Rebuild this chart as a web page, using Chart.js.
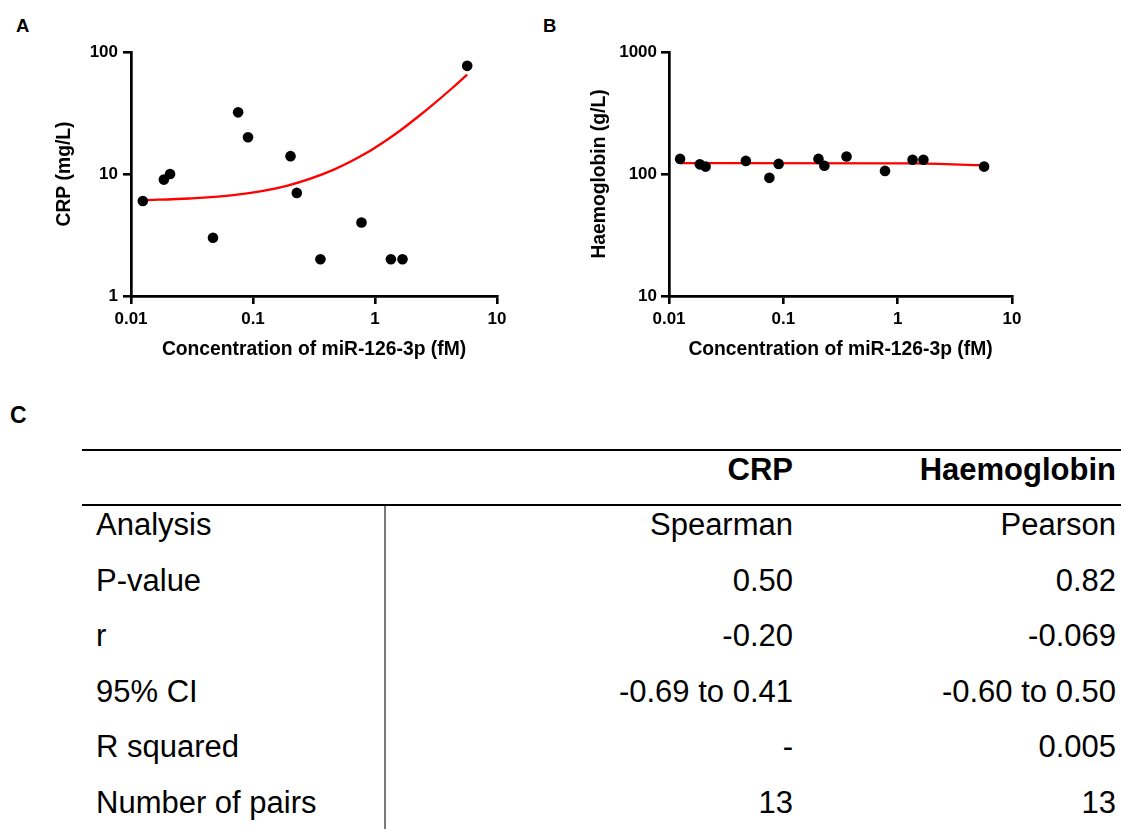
<!DOCTYPE html>
<html>
<head>
<meta charset="utf-8">
<script src="https://cdn.jsdelivr.net/npm/chart.js@4/dist/chart.umd.min.js"></script>
<style>
  html, body { margin: 0; padding: 0; background: #fff; }
  body { width: 1121px; height: 829px; position: relative; overflow: hidden;
         font-family: "Liberation Sans", Arial, sans-serif; color: #000; }
  .panel { position: absolute; font-weight: bold; line-height: 1; }
  canvas { position: absolute; }
  .rule { position: absolute; background: #000; }
  .cell { position: absolute; font-size: 31px; line-height: 40px; white-space: nowrap; }
  .num { text-align: right; }
  .head { font-weight: bold; }
</style>
</head>
<body>
<div class="panel" style="left:16px; top:17px; font-size:18.5px;">A</div>
<div class="panel" style="left:543px; top:17px; font-size:18.5px;">B</div>
<div class="panel" style="left:10px; top:404px; font-size:23px;">C</div>

<canvas id="crpChart" width="530" height="370" style="left:0; top:0;"></canvas>
<canvas id="hbChart" width="560" height="370" style="left:530px; top:0;"></canvas>

<div id="statsTable"></div>

<script>
// miR-126-3p concentration per patient (fM)
const concentration = [0.0125, 0.0186, 0.0209, 0.047, 0.0755, 0.091, 0.203, 0.2285, 0.357, 0.775, 1.35, 1.68, 5.7];
// CRP (mg/L) for the same patients
const crpValues = [6, 9, 10, 3, 32, 20, 14, 7, 2, 4, 2, 2, 77];
// Haemoglobin (g/L) for the same patients
const haemoglobinValues = [133, 120, 115, 128, 93, 121, 133, 117, 139, 106, 131, 131, 115];

// Fitted lines
const crpFitX = [0.0125, 0.03, 0.069, 0.189, 0.455, 0.855, 1.25, 1.6, 2.2, 3.0, 4.3, 5.7];
const crpFitY = [6.1, 6.3, 6.7, 8.0, 10.8, 14.9, 19, 22.6, 28.9, 37.2, 50.7, 65.3];
const hbFitX = [0.0125, 1.35, 5.7];
const hbFitY = [123, 122, 118];

// Axis ticks
const xTickValues = [0.01, 0.1, 1, 10];
const xTickLabels = ['0.01', '0.1', '1', '10'];
const crpTickValues = [1, 10, 100];
const crpTickLabels = ['1', '10', '100'];
const hbTickValues = [10, 100, 1000];
const hbTickLabels = ['10', '100', '1000'];

// Correlation summary table
const statNames = ['Analysis', 'P-value', 'r', '95% CI', 'R squared', 'Number of pairs'];
const crpStats = ['Spearman', '0.50', '-0.20', '-0.69 to 0.41', '-', '13'];
const hbStats = ['Pearson', '0.82', '-0.069', '-0.60 to 0.50', '0.005', '13'];

const FAMILY = '"Liberation Sans", Arial, sans-serif';
const tickFont = { family: FAMILY, size: 17, weight: 'bold' };
const titleFont = { family: FAMILY, size: 19.3, weight: 'bold' };
const axisGrid = { display: true, drawOnChartArea: false, drawTicks: true, tickLength: 8, color: '#000', lineWidth: 2.6 };
const axisBorder = { display: true, color: '#000', width: 2.7 };

function makePanel(id, yValues, fitX, fitY, yTicks, yLabels, yTitle, cfg) {
  const points = concentration.map((x, i) => ({ x: x, y: yValues[i] }));
  const fit = fitX.map((x, i) => ({ x: x, y: fitY[i] }));
  return new Chart(document.getElementById(id), {
    type: 'scatter',
    data: {
      datasets: [
        { data: points, backgroundColor: '#000', borderWidth: 0, pointRadius: 5.3, pointHoverRadius: 5.3 },
        { data: fit, showLine: true, borderColor: '#ff0000', borderWidth: 2.3, pointRadius: 0,
          fill: false, cubicInterpolationMode: 'monotone' }
      ]
    },
    options: {
      responsive: false,
      animation: false,
      devicePixelRatio: 1,
      layout: { padding: { top: 52, right: cfg.right, bottom: 0, left: 0 } },
      plugins: { legend: { display: false }, tooltip: { enabled: false } },
      scales: {
        x: {
          type: 'logarithmic', position: 'bottom', min: 0.01, max: 10,
          afterBuildTicks: s => { s.ticks = xTickValues.map(v => ({ value: v, major: true })); },
          afterFit: s => { s.height = 74; },
          grid: axisGrid,
          border: axisBorder,
          ticks: { color: '#000', padding: 5, maxRotation: 0, autoSkip: false, font: tickFont,
                   callback: (v, i) => xTickLabels[i] },
          title: { display: true, text: 'Concentration of miR-126-3p (fM)', color: '#000',
                   font: titleFont, padding: { top: 0, bottom: 8.4 } }
        },
        y: {
          type: 'logarithmic', position: 'left', min: yTicks[0], max: yTicks[yTicks.length - 1],
          afterBuildTicks: s => { s.ticks = yTicks.map(v => ({ value: v, major: true })); },
          afterFit: s => { s.width = cfg.yWidth; },
          grid: axisGrid,
          border: axisBorder,
          ticks: { color: '#000', padding: cfg.tickPad, autoSkip: false, font: tickFont,
                   callback: (v, i) => yLabels[i] },
          title: { display: true, text: yTitle, color: '#000', font: titleFont,
                   padding: { top: cfg.titleOffset, bottom: 0 } }
        }
      }
    }
  });
}

makePanel('crpChart', crpValues, crpFitX, crpFitY, crpTickValues, crpTickLabels, 'CRP (mg/L)',
          { right: 33, yWidth: 131, tickPad: 5, titleOffset: 53.4 });
makePanel('hbChart', haemoglobinValues, hbFitX, hbFitY, hbTickValues, hbTickLabels, 'Haemoglobin (g/L)',
          { right: 78, yWidth: 139, tickPad: 4, titleOffset: 58.4 });

// Summary table (panel C)
(function buildTable() {
  const host = document.getElementById('statsTable');
  function add(cls, style, text) {
    const d = document.createElement('div');
    d.className = cls;
    d.setAttribute('style', style);
    if (text !== undefined) d.textContent = text;
    host.appendChild(d);
  }
  add('rule', 'left:82px; top:449px; width:1039px; height:2px;');
  add('rule', 'left:82px; top:504px; width:1039px; height:2px;');
  add('rule', 'left:384px; top:506px; width:1.5px; height:323px; background:#7a7a7a;');
  add('cell head num', 'left:500px; width:293px; top:449.5px;', 'CRP');
  add('cell head num', 'left:820px; width:296px; top:449.5px;', 'Haemoglobin');
  const centers = [525, 581, 636, 692, 747, 803];
  statNames.forEach((name, i) => {
    const top = centers[i] - 20;
    add('cell', 'left:96px; top:' + top + 'px;', name);
    add('cell num', 'left:500px; width:293px; top:' + top + 'px;', crpStats[i]);
    add('cell num', 'left:820px; width:296px; top:' + top + 'px;', hbStats[i]);
  });
})();
</script>
</body>
</html>
